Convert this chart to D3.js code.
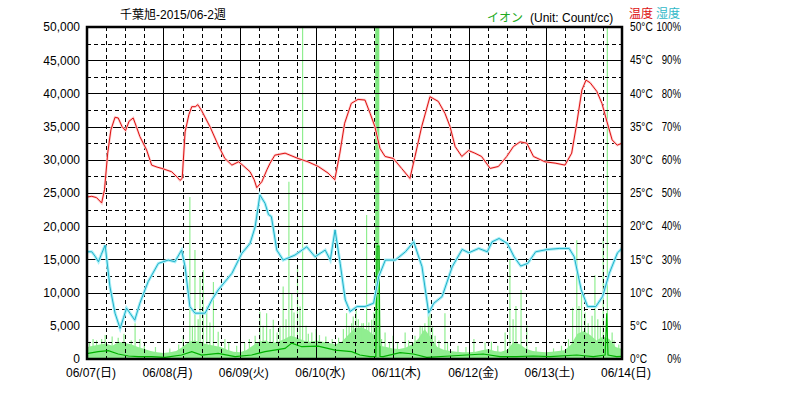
<!DOCTYPE html>
<html>
<head>
<meta charset="utf-8">
<script src="https://cdn.jsdelivr.net/npm/d3@7"></script>
<style>
  body { margin: 0; background: #fff; }
  text { font-family: "Liberation Sans", "Noto Sans CJK JP", sans-serif; font-size: 12px; }
</style>
</head>
<body>
<div id="chart"></div>
<script>
// data (hours from 06/07 00:00)

var dayLabels = ["06/07(日)", "06/08(月)", "06/09(火)", "06/10(水)", "06/11(木)", "06/12(金)", "06/13(土)", "06/14(日)"];
var ionTicks = [0, 5000, 10000, 15000, 20000, 25000, 30000, 35000, 40000, 45000, 50000];
var tempTicks = ["0°C", "5°C", "10°C", "15°C", "20°C", "25°C", "30°C", "35°C", "40°C", "45°C", "50°C"];
var humTicks = ["0%", "10%", "20%", "30%", "40%", "50%", "60%", "70%", "80%", "90%", "100%"];

var tempHours = [0, 1.5, 3, 4.6, 5.5, 6.5, 7.5, 8.8, 9.8, 11, 12.1, 13.2, 14.5, 15.5, 16.6, 18.7, 20.3, 22, 23.5,
	26.6, 28.5, 29.2, 29.9, 30.8, 32, 32.9, 34, 34.8, 36, 38.6, 41.2, 43.3, 45.5, 47.6, 49.1, 51.2, 52.5, 53.3, 54.9,
	56.5, 57.5, 59, 62.2, 66.3, 69.4, 72.6, 75.7, 77.8, 79.4, 80.9, 83, 85.1, 87.3, 88.9, 90.4, 92, 93.6, 96.2, 98.8,
	101.4, 103, 105.1, 107.7, 110.3, 112.4, 114, 115.6, 117.7, 119.8, 121.8, 123.9, 126.6, 129.2, 131.8, 133.9, 136,
	138.1, 140.2, 143.8, 147, 150.1, 152.2, 153.8, 155.4, 156.7, 158, 160.1, 161.7, 163.3, 164.9, 166.5, 168];
var tempValues = [24.4, 24.5, 24.3, 23.5, 25.5, 31.0, 34.5, 36.4, 36.3, 35.0, 34.4, 35.8, 36.3, 35.0, 33.5, 31.5, 29.2, 28.9, 28.7,
	28.2, 27.3, 26.9, 27.2, 34.2, 36.8, 38.0, 38.0, 38.3, 37.4, 35.0, 32.2, 30.2, 29.2, 29.7, 29.1, 28.2, 27.0, 25.8, 26.7,
	28.5, 29.5, 30.7, 31.0, 30.2, 29.7, 29.0, 28.0, 27.0, 31.0, 35.5, 38.5, 39.1, 39.0, 37.0, 35.0, 31.7, 30.5, 30.2, 28.7,
	27.2, 30.5, 35.0, 39.5, 38.8, 37.0, 35.0, 32.0, 30.5, 31.4, 31.0, 30.5, 28.7, 29.0, 30.5, 32.0, 32.7,
	32.5, 30.5, 29.7, 29.5, 29.2, 31.0, 35.5, 40.5, 42.0, 41.6, 40.3, 38.5, 35.7, 33.0, 32.2, 32.5];

var humHours = [0, 1.5, 2.5, 3.6, 4.5, 5.7, 7.2, 8.8, 10.4, 11.5, 12.4, 13.5, 15, 16.6, 19.2, 22.4, 25.5, 27.6, 29.7,
	30.8, 32.3, 33.9, 37.1, 39.2, 41.2, 45.5, 48.6, 51.2, 52.8, 54.3, 55.9, 57, 57.9, 59.6, 61.6, 65.3, 69, 71.6, 74.8,
	76.4, 77.9, 79.5, 81.1, 82.6, 84.8, 87.3, 90, 91.6, 93.7, 96.8, 100, 102.6, 105.2, 107.3, 108.9, 111.5, 114.7, 117.8,
	119.9, 123, 125.7, 127.2, 129.4, 132, 134.1, 136.2, 138.4, 140.9, 144.6, 148.3, 151.4, 153, 155.2, 157.2, 159.8,
	161.9, 164, 166.6, 168];
var humValues = [32.3, 32.3, 31.0, 29.3, 31.5, 34.3, 21.8, 13.8, 9.2, 12.5, 15.3, 13.8, 11.7, 16.8, 23.3, 28.8, 29.8, 29.3, 32.8,
	27.8, 15.8, 13.8, 13.8, 17.8, 20.8, 25.8, 31.8, 34.8, 39.8, 49.4, 46.9, 43.5, 42.9, 32.8, 29.8, 31.3, 33.8, 30.8, 32.8,
	29.8, 38.9, 28.8, 17.8, 14.3, 15.8, 15.8, 16.8, 24.8, 29.8, 29.8, 32.3, 35.3, 27.8, 13.8, 16.8, 18.8, 27.8, 33.0,
	32.0, 33.3, 32.3, 35.3, 36.3, 34.8, 30.8, 28.0, 28.8, 32.3, 33.0, 33.3, 33.3, 30.8, 20.8, 15.8, 15.8,
	18.8, 25.8, 32.0, 33.3];

// ion average (dark green)
var ionAvgHours = [0, 0.4, 3.5, 6.7, 9.8, 13, 16.1, 20.3, 24.5, 29.7, 32.9, 36, 41.2, 46.5, 51.7, 55.9, 62.2, 64.3, 67.4,
	72.6, 77.9, 83.1, 85.7, 88.9, 90.7, 91.1, 91.7, 92, 93, 98.3, 102.5, 106.7, 114, 124.4, 129.7, 134.9, 140.1, 145.4,
	153.8, 159, 162.7, 163.2, 163.6, 166.3, 168];
var ionAvgValues = [800, 860, 1100, 1250, 750, 450, 350, 350, 250, 600, 1100, 600, 860, 350, 600, 1100, 1600, 2400, 1850,
	1950, 1350, 1100, 600, 350, 400, 17000, 17000, 400, 350, 950, 750, 250, 450, 750, 350, 350, 450, 350,
	600, 350, 600, 6900, 600, 350, 400];

// ion maximum band (light green), every 2 hours
var ionBandHours = d3.range(0, 169, 2);
var ionBandValues = [1800, 2000, 2200, 2300, 2000, 2600, 2400, 2200, 1800, 1500, 1200, 1000, 900, 1000, 1200, 1800, 2600,
	2800, 2400, 2200, 2000, 1800, 1400, 1100, 1000, 1300, 2000, 2600, 2800, 2400, 2600, 3000, 3500, 3200, 2800, 2600,
	2800, 2600, 2400, 2200, 2600, 3600, 4600, 4800, 4400, 3600, 2000, 1800, 1600, 1500, 1700, 2200, 3000, 4500, 3200,
	1800, 1400, 1200, 1100, 1000, 1000, 1100, 1300, 1500, 1200, 1100, 1400, 2600, 2200, 1500, 1200, 1100, 1000, 1100,
	1200, 1300, 2200, 3800, 4200, 3600, 2800, 3400, 3000, 1800, 1500];

// ion maximum spikes
var ionSpikeHours = [1.9, 5.7, 7.9, 9.8, 11.6, 15.1, 16.6, 32.3, 33.1, 33.9, 34.9, 35.5, 36.5, 37.6, 38.6, 39.7, 41.2, 43.3,
	52.8, 54.3, 55.3, 56.4, 57.5, 58.5, 59.7, 60.6, 61.6, 62.5, 63.4, 64.3, 65, 66.1, 66.9, 67.7, 68.8, 70.6, 71.9,
	81.5, 83.1, 83.6, 84.5, 86.3, 86.8, 87.8, 89.4, 90.1, 93.6, 96.1, 99.9, 104.6, 106.1, 107.2, 107.7, 109.3, 112.4,
	121.5, 131.3, 132.8, 133.8, 134.7, 136.3, 138.1, 152.5, 153.8, 154.5, 155.3, 156.4, 157.4, 158.6, 159.5, 160.4,
	162.1, 163.4, 164.9];
var ionSpikeValues = [3000, 3600, 3400, 3200, 3800, 5400, 3000, 24400, 5000, 16400, 6000, 12400, 13400, 7900, 5500, 11600, 4100, 3000,
	3500, 7100, 5000, 6900, 4500, 5900, 4000, 5000, 10900, 6000, 26700, 9900, 7000, 14200, 7900, 50000, 5000, 4000, 4500,
	6900, 5400, 6400, 7500, 5400, 5400, 21700, 5900, 7000, 4000, 3500, 4000, 5000, 5400, 6900, 6900, 3500, 6900,
	3000, 4000, 14900, 6000, 8000, 10400, 5100, 7700, 17900, 8000, 9900, 7000, 5400, 6500, 12600, 6000,
	18200, 50000, 4000];
// smaller jags along the band
var ionSmallHours = [0.8, 3.0, 4.6, 13.9, 18.0, 21.5, 26.0, 28.8, 30.2, 44.5, 47.0, 49.5, 51.0, 69.5, 73.0, 75.0, 77.0,
	79.0, 80.5, 82.3, 85.2, 88.5, 92.5, 95.0, 97.5, 101.0, 103.0, 105.3, 108.5, 110.5, 113.2, 116.5, 119.0, 125.0,
	127.0, 129.0, 141.0, 146.5, 149.0, 151.2, 161.2, 165.5, 167.0];
var ionSmallValues = [2600, 2800, 3000, 2800, 2200, 1800, 1600, 2200, 3500, 2500, 2000, 2400, 3000, 3800, 3600, 3400, 3000,
	3200, 4500, 5000, 6000, 5500, 3000, 2500, 2400, 2800, 3500, 4800, 5000, 2800, 2400, 2000, 1800, 2500,
	2600, 2000, 1800, 1600, 2000, 3000, 5000, 2800, 2200];
var ionWideSpike = [90.5, 91.8];


//define SVG area

var svgWidth = 786;
var svgHeight = 399;

var chartMargins = {
	top: 27,
	bottom: 40,
	right: 164,
	left: 87
};

var chartWidth = svgWidth - chartMargins.left - chartMargins.right;
var chartHeight = svgHeight - chartMargins.top - chartMargins.bottom;

var svg = d3.select("#chart")
	.append("svg")
	.attr("height", svgHeight)
	.attr("width", svgWidth);

var chartGroup = svg.append("g")
	.attr("transform", `translate(${chartMargins.left}, ${chartMargins.top})`);

// scales
var xScale = d3.scaleLinear().domain([0, 168]).range([0, chartWidth]);
var yScale = d3.scaleLinear().domain([0, 50000]).range([chartHeight, 0]);
var tempScale = d3.scaleLinear().domain([0, 50]).range([chartHeight, 0]);
var humScale = d3.scaleLinear().domain([0, 100]).range([chartHeight, 0]);

// light green band
var bandArea = d3.area()
	.x(d => xScale(d[0]))
	.y0(yScale(0))
	.y1(d => yScale(d[1]));

chartGroup.append("path")
	.datum(d3.zip(ionBandHours, ionBandValues))
	.attr("d", bandArea)
	.attr("fill", "#90ee90");

var spikes = d3.zip(ionSpikeHours, ionSpikeValues).concat(d3.zip(ionSmallHours, ionSmallValues));
chartGroup.selectAll(".spike")
	.data(spikes)
	.enter()
		.append("line")
	.attr("class", "spike")
	.attr("x1", d => xScale(d[0]))
	.attr("x2", d => xScale(d[0]))
	.attr("y1", yScale(0))
	.attr("y2", d => yScale(d[1]))
	.attr("stroke", "#90ee90")
	.attr("stroke-width", 1.2);

chartGroup.append("rect")
	.attr("x", xScale(ionWideSpike[0]))
	.attr("width", xScale(ionWideSpike[1]) - xScale(ionWideSpike[0]))
	.attr("y", yScale(50000))
	.attr("height", yScale(0) - yScale(50000))
	.attr("fill", "#80e880");

// grid lines
var hGrid = d3.range(2500, 50000, 2500);
chartGroup.selectAll(".hgrid")
	.data(hGrid)
	.enter()
		.append("line")
	.attr("x1", 0)
	.attr("x2", chartWidth)
	.attr("y1", d => Math.round(yScale(d)) + 0.5)
	.attr("y2", d => Math.round(yScale(d)) + 0.5)
	.attr("stroke", "#000")
	.attr("stroke-dasharray", d => d % 5000 == 0 ? null : "4,3");

var vGrid = d3.range(6, 168, 6);
chartGroup.selectAll(".vgrid")
	.data(vGrid)
	.enter()
		.append("line")
	.attr("x1", d => Math.round(xScale(d)) + 0.5)
	.attr("x2", d => Math.round(xScale(d)) + 0.5)
	.attr("y1", 0)
	.attr("y2", chartHeight)
	.attr("stroke", "#000")
	.attr("stroke-dasharray", d => d % 24 == 0 ? null : "4,3");

// ion average line
var ionLine = d3.line()
	.x(d => xScale(d[0]))
	.y(d => yScale(d[1]));

chartGroup.append("path")
	.datum(d3.zip(ionAvgHours, ionAvgValues))
	.attr("d", ionLine)
	.attr("fill", "none")
	.attr("stroke", "#00b000")
	.attr("stroke-width", 1.2);

// humidity
var humLine = d3.line()
	.x(d => xScale(d[0]))
	.y(d => humScale(d[1]));

var humData = d3.zip(humHours, humValues);
chartGroup.append("path")
	.datum(humData)
	.attr("d", humLine)
	.attr("fill", "none")
	.attr("stroke", "#aaf0f8")
	.attr("stroke-width", 3);

chartGroup.append("path")
	.datum(humData)
	.attr("d", humLine)
	.attr("fill", "none")
	.attr("stroke", "#20b0c8")
	.attr("stroke-width", 1);

// temperature
var tempLine = d3.line()
	.x(d => xScale(d[0]))
	.y(d => tempScale(d[1]));

var tempData = d3.zip(tempHours, tempValues);
chartGroup.append("path")
	.datum(tempData)
	.attr("d", tempLine)
	.attr("fill", "none")
	.attr("stroke", "#ffd0d0")
	.attr("stroke-width", 2.5);

chartGroup.append("path")
	.datum(tempData)
	.attr("d", tempLine)
	.attr("fill", "none")
	.attr("stroke", "#dd1010")
	.attr("stroke-width", 1);

// frame
chartGroup.append("rect")
	.attr("x", 0)
	.attr("y", 0)
	.attr("width", chartWidth)
	.attr("height", chartHeight)
	.attr("fill", "none")
	.attr("stroke", "#000")
	.attr("stroke-width", 2.5);

// left axis
var leftAxis = d3.axisLeft(yScale)
	.tickValues(ionTicks)
	.tickSize(0)
	.tickPadding(7)
	.tickFormat(d3.format(","));

var leftG = chartGroup.append("g").call(leftAxis);
leftG.select(".domain").remove();
leftG.selectAll("text")
	.attr("font-size", 12)
	.attr("font-family", "Liberation Sans, sans-serif")
	.attr("fill", "#000");

// right labels
chartGroup.selectAll(".tempLabel")
	.data(tempTicks)
	.enter()
		.append("text")
	.attr("x", chartWidth + 8)
	.attr("y", (d, i) => tempScale(i * 5))
	.attr("dy", "0.35em")
	.attr("font-size", 11)
	.text(d => d)
	.attr("textLength", function() { return this.getComputedTextLength() * 0.85; })
	.attr("lengthAdjust", "spacingAndGlyphs");

chartGroup.selectAll(".humLabel")
	.data(humTicks)
	.enter()
		.append("text")
	.attr("x", chartWidth + 59)
	.attr("y", (d, i) => humScale(i * 10))
	.attr("dy", "0.35em")
	.attr("text-anchor", "end")
	.attr("font-size", 11)
	.text(d => d)
	.attr("textLength", function() { return this.getComputedTextLength() * 0.8; })
	.attr("lengthAdjust", "spacingAndGlyphs");

// bottom labels
chartGroup.selectAll(".dayLabel")
	.data(dayLabels)
	.enter()
		.append("text")
	.attr("x", (d, i) => xScale(i * 24) - 21)
	.attr("y", chartHeight + 18)
	.text(d => d);

// title and legend
svg.append("text")
	.attr("x", 120)
	.attr("y", 19)
	.attr("font-size", 13)
	.text("千葉旭-2015/06-2週");

svg.append("text")
	.attr("x", 487)
	.attr("y", 22)
	.attr("fill", "#22aa22")
	.text("イオン");

svg.append("text")
	.attr("x", 530)
	.attr("y", 22)
	.text("(Unit: Count/cc)");

svg.append("text")
	.attr("x", 629)
	.attr("y", 18)
	.attr("fill", "#dd1010")
	.text("温度");

svg.append("text")
	.attr("x", 656)
	.attr("y", 18)
	.attr("fill", "#30b8c8")
	.text("湿度");
</script>
</body>
</html>
